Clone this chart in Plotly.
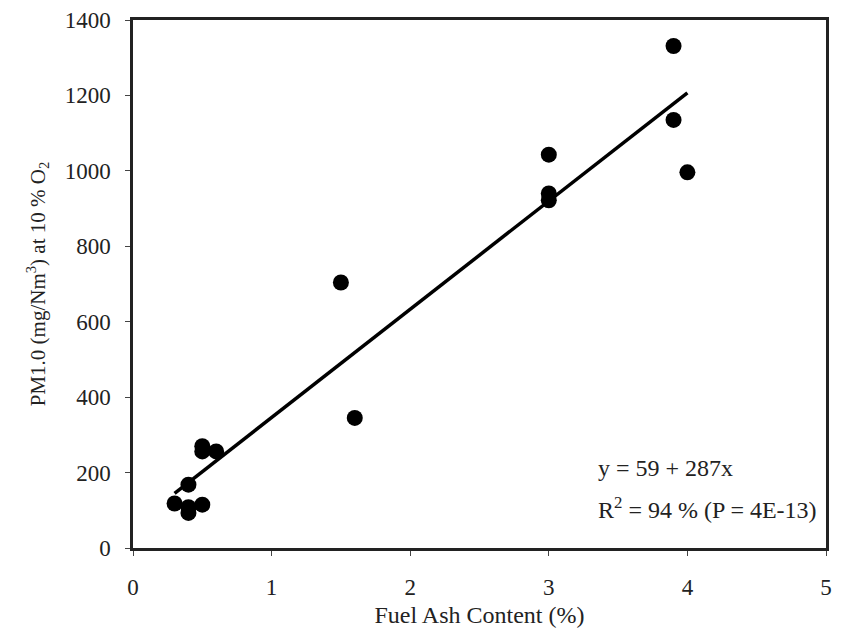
import plotly.graph_objects as go

ash = [0.3, 0.4, 0.4, 0.4, 0.5, 0.5, 0.5, 0.6, 1.5, 1.6, 3.0, 3.0, 3.0, 3.9, 3.9, 4.0]
pm = [118, 168, 108, 93, 115, 270, 256, 256, 704, 345, 1043, 940, 922, 1331, 1135, 996]
fit_x = [0.3, 4.0]
intercept, slope = 59, 287
fit_y = [intercept + slope * v for v in fit_x]
x_ticks = [0, 1, 2, 3, 4, 5]
y_ticks = [0, 200, 400, 600, 800, 1000, 1200, 1400]

font = "Liberation Serif, Times New Roman, serif"

fig = go.Figure()
fig.add_trace(go.Scatter(x=fit_x, y=fit_y, mode="lines",
                         line=dict(color="black", width=3.5), showlegend=False))
fig.add_trace(go.Scatter(x=ash, y=pm, mode="markers",
                         marker=dict(color="black", size=16), showlegend=False))

fig.add_annotation(x=0.668, y=0.151, xref="paper", yref="paper", xanchor="left",
                   yanchor="middle",
                   text="y = 59 + 287x", showarrow=False,
                   font=dict(family=font, size=24, color="#222"))
fig.add_annotation(x=0.668, y=0.0756, xref="paper", yref="paper", xanchor="left",
                   yanchor="middle",
                   text="R<sup>2</sup> = 94 % (P = 4E-13)", showarrow=False,
                   font=dict(family=font, size=24, color="#222"))

axis_common = dict(showgrid=False, zeroline=False, showline=True, linecolor="#222",
                   linewidth=2.5, mirror=True, ticks="outside", ticklen=5,
                   tickcolor="#444", tickwidth=1, automargin=False,
                   ticklabeloverflow="allow",
                   tickfont=dict(family=font, size=23, color="#222"))

fig.update_xaxes(range=[0, 5], tickvals=x_ticks, ticklabelstandoff=12,
                 title=dict(text="Fuel Ash Content (%)", standoff=10,
                            font=dict(family=font, size=24, color="#222")),
                 **axis_common)
fig.update_yaxes(range=[0, 1400], tickvals=y_ticks, ticklabelstandoff=10,
                 title=dict(text="PM1.0 (mg/Nm<sup>3</sup>) at 10 % O<sub>2</sub>", standoff=14,
                            font=dict(family=font, size=21, color="#222")),
                 **axis_common)

fig.update_layout(width=843, height=620, plot_bgcolor="white", paper_bgcolor="white",
                  margin=dict(l=125, r=25, t=12, b=80))

fig.write_html("out.html")
